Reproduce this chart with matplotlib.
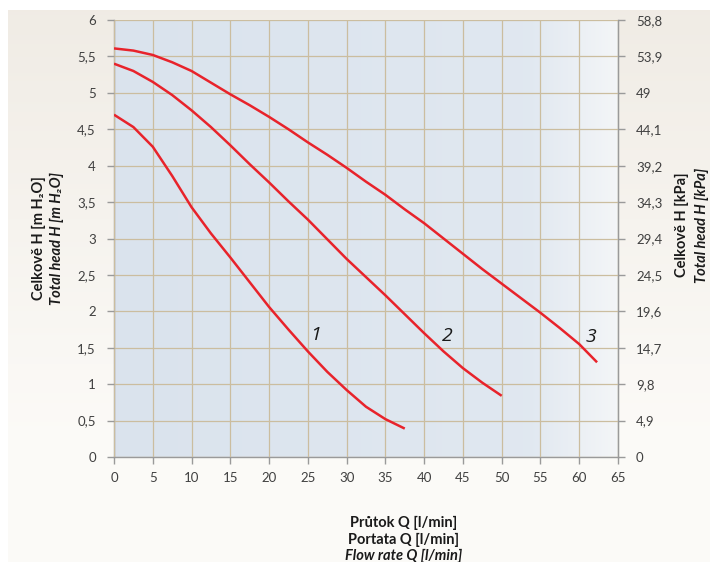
import numpy as np
import matplotlib
matplotlib.use("Agg")
import matplotlib.pyplot as plt

# ---- data ----
q1 = [0, 2.5, 5, 7.5, 10, 12.5, 15, 17.5, 20, 22.5, 25, 27.5, 30, 32.5, 35, 37.5]
h1 = [4.70, 4.53, 4.26, 3.86, 3.43, 3.07, 2.74, 2.40, 2.06, 1.75, 1.45, 1.17, 0.92, 0.69, 0.52, 0.39]
q2 = [0, 2.5, 5, 7.5, 10, 12.5, 15, 17.5, 20, 22.5, 25, 27.5, 30, 32.5, 35, 37.5, 40, 42.5, 45, 47.5, 50]
h2 = [5.40, 5.30, 5.15, 4.97, 4.76, 4.53, 4.28, 4.02, 3.77, 3.51, 3.26, 2.99, 2.72, 2.47, 2.22, 1.96,
      1.70, 1.45, 1.22, 1.02, 0.84]
q3 = [0, 2.5, 5, 7.5, 10, 12.5, 15, 17.5, 20, 22.5, 25, 27.5, 30, 32.5, 35, 37.5, 40, 42.5, 45,
      47.5, 50, 52.5, 55, 57.5, 60, 62.3]
h3 = [5.61, 5.58, 5.52, 5.42, 5.30, 5.14, 4.98, 4.83, 4.67, 4.50, 4.32, 4.15, 3.97, 3.78, 3.60, 3.40,
      3.21, 3.00, 2.79, 2.58, 2.38, 2.18, 1.98, 1.77, 1.55, 1.30]
curve_labels = ["1", "2", "3"]
label_pos = [(26.0, 1.68), (43.0, 1.66), (61.5, 1.65)]
x_ticks = list(range(0, 66, 5))
y_ticks = [i * 0.5 for i in range(13)]
kpa_ticks = [round(i * 4.9, 1) for i in range(13)]

def fmt(v):
    s = ("%.1f" % v).rstrip("0").rstrip(".")
    return s.replace(".", ",")

FONT = ["Lato", "DejaVu Sans"]
plt.rcParams['font.family'] = FONT
TXT = "#404040"

W, H = 718, 562
fig = plt.figure(figsize=(W / 100, H / 100), dpi=100, facecolor="white")

# background panel (cream gradient)
bg = fig.add_axes([8 / W, 0, (710 - 8) / W, (H - 10) / H], zorder=-10)
bg.axis("off")
yy = np.linspace(0, 1, 200)[:, None]
c_top = np.array([0.942, 0.925, 0.898])
c_bot = np.array([0.988, 0.982, 0.970])
t = np.clip(yy * 1.3, 0, 1)
img = c_top[None, None, :] * (1 - t[..., None]) + c_bot[None, None, :] * t[..., None]
img = np.broadcast_to(img, (200, 200, 3))
bg.imshow(img, aspect="auto", extent=[0, 1, 0, 1], origin="upper")
bg.set_xlim(0, 1); bg.set_ylim(0, 1)

left, right, top, bottom = 114, 618, 20, 457
ax = fig.add_axes([left / W, 1 - bottom / H, (right - left) / W, (bottom - top) / H])
ax.set_xlim(0, 65)
ax.set_ylim(0, 6)

# plot area gradient (light blue -> near white at right)
gx = np.linspace(0, 1, 400)
c_l = np.array([0.855, 0.890, 0.930])
c_m = np.array([0.880, 0.910, 0.943])
c_r = np.array([0.955, 0.962, 0.970])
k = 0.82
cols = np.where(gx[:, None] < k,
                c_l + (c_m - c_l) * (gx[:, None] / k),
                c_m + (c_r - c_m) * ((gx[:, None] - k) / (1 - k)))
grad = np.broadcast_to(cols[None, :, :], (10, 400, 3))
ax.imshow(grad, aspect="auto", extent=[0, 65, 0, 6], zorder=0, origin="upper")

ax.set_xticks(x_ticks)
ax.set_yticks(y_ticks)
ax.set_xticklabels([str(v) for v in x_ticks], fontsize=9.5, color=TXT)
ax.set_yticklabels([fmt(v) for v in y_ticks], fontsize=9.5, color=TXT)
ax.grid(True, color="#cbbd9f", lw=0.9, zorder=1)
ax.set_axisbelow(False)
ax.spines["top"].set_visible(False)
for s in ["left", "right", "bottom"]:
    ax.spines[s].set_color("#9a9a9a")
    ax.spines[s].set_linewidth(1.0)
ax.tick_params(axis="both", direction="out", length=5, color="#9a9a9a", width=1.0)
ax.tick_params(axis="x", pad=6)
ax.tick_params(axis="y", pad=8)

for q, h in [(q1, h1), (q2, h2), (q3, h3)]:
    ax.plot(q, h, color="#e8232b", lw=1.8, zorder=3, solid_capstyle="butt",
            solid_joinstyle="round")
for lab, (x, y) in zip(curve_labels, label_pos):
    ax.text(x, y, lab, fontsize=14, style="italic", color="#1a1a1a",
            ha="center", va="center", zorder=4, family=["Open Sans", "DejaVu Sans"])

ax2 = ax.twinx()
ax2.set_ylim(0, 58.8)
ax2.set_yticks(kpa_ticks)
ax2.set_yticklabels([fmt(v) for v in kpa_ticks], fontsize=9.5, color=TXT)
ax2.tick_params(axis="y", direction="out", length=5, color="#9a9a9a", width=1.0, pad=8)
for s in ["top", "left", "bottom"]:
    ax2.spines[s].set_visible(False)
ax2.spines["right"].set_color("#9a9a9a")

# axis titles
fig.text(39 / W, 1 - 238 / H, "Celkově H [m H₂O]", rotation=90, ha="center", va="center",
         fontsize=10.5, fontweight="bold", color="#1a1a1a")
fig.text(57 / W, 1 - 238 / H, "Total head H [m H₂O]", rotation=90, ha="center", va="center",
         fontsize=10.5, fontweight="bold", style="italic", color="#1a1a1a")
fig.text(682 / W, 1 - 225 / H, "Celkově H [kPa]", rotation=90, ha="center", va="center",
         fontsize=10.5, fontweight="bold", color="#1a1a1a")
fig.text(702 / W, 1 - 225 / H, "Total head H [kPa]", rotation=90, ha="center", va="center",
         fontsize=10.5, fontweight="bold", style="italic", color="#1a1a1a")
fig.text(404 / W, 1 - 523 / H, "Průtok Q [l/min]", ha="center", va="center",
         fontsize=10.5, fontweight="bold", color="#1a1a1a")
fig.text(404 / W, 1 - 540 / H, "Portata Q [l/min]", ha="center", va="center",
         fontsize=10.5, fontweight="bold", color="#1a1a1a")
fig.text(404 / W, 1 - 556 / H, "Flow rate Q [l/min]", ha="center", va="center",
         fontsize=10.5, fontweight="bold", style="italic", color="#1a1a1a")

fig.savefig("out.png", dpi=100, facecolor="white")
